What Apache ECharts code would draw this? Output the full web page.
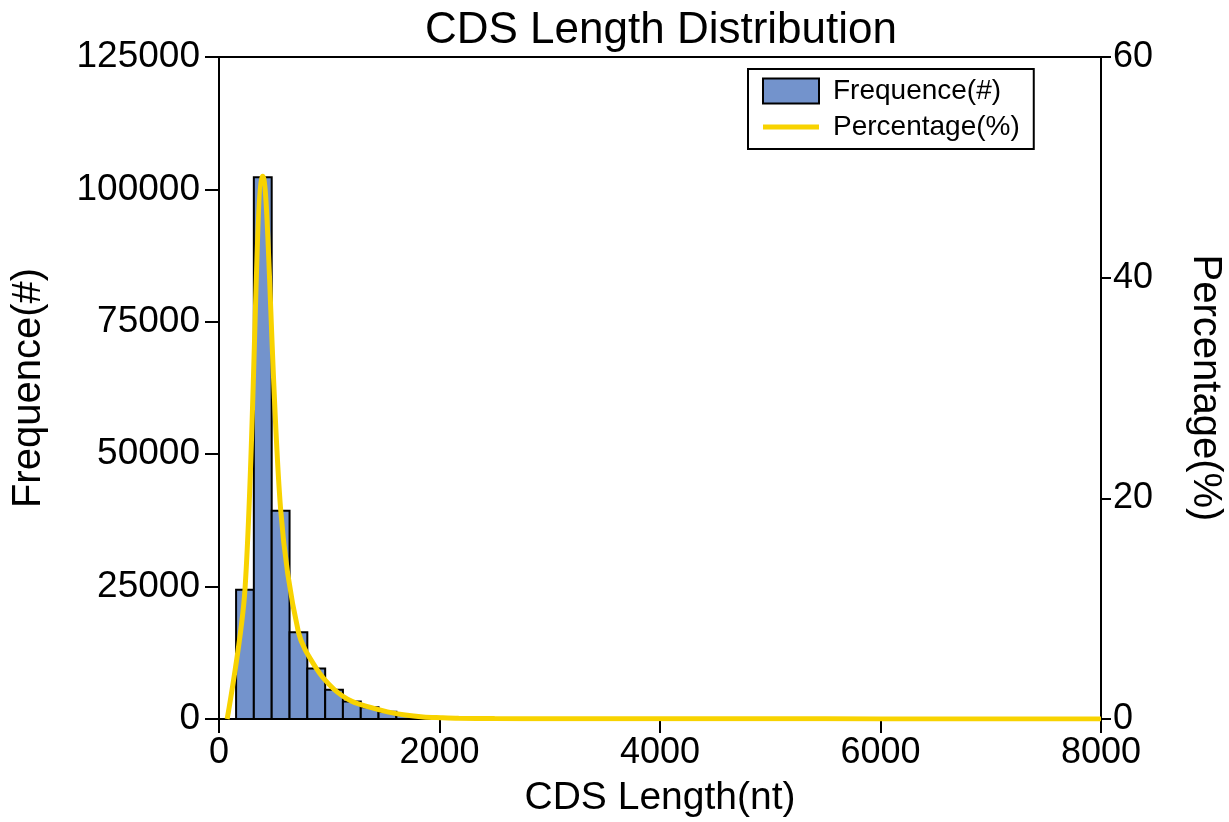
<!DOCTYPE html>
<html>
<head>
<meta charset="utf-8">
<script src="https://cdn.jsdelivr.net/npm/echarts@6/dist/echarts.min.js"></script>
<style>
html,body{margin:0;padding:0;background:#fff;overflow:hidden;}
#chart{width:1229px;height:822px;}
</style>
</head>
<body>
<div id="chart"></div>
<script>
// Histogram bins (CDS length, nt): left and right edges
const binLeft  = [155, 316, 478, 640, 801, 963, 1124, 1286, 1447, 1609, 1770, 1932, 2093, 2255];
const binRight = [316, 478, 640, 801, 963, 1124, 1286, 1447, 1609, 1770, 1932, 2093, 2255, 2416];
const frequency = [24400, 102300, 39300, 16400, 9550, 5500, 3300, 2200, 1350, 750, 400, 250, 150, 100];

// Percentage curve points (x in nt, y in %)
const pctX = [74, 236, 397, 559, 720, 882, 1043, 1205, 1366, 1528, 1689, 1851, 2012, 2174, 2500, 3000, 4000, 5000, 6000, 7000, 8000];
const pctY = [0, 11.8, 49.2, 19.0, 7.9, 4.6, 2.7, 1.6, 1.07, 0.65, 0.36, 0.19, 0.12, 0.07, 0.04, 0.03, 0.03, 0.02, 0.01, 0.01, 0.0];

const xTicks = [0, 2000, 4000, 6000, 8000];
const seriesNames = ['Frequence(#)', 'Percentage(%)'];

const FONT = '"Liberation Sans", Arial, sans-serif';
const barData = binLeft.map((l, i) => [l, binRight[i], frequency[i]]);
const lineData = pctX.map((x, i) => [x, pctY[i]]);
const plain = v => String(v);

const chart = echarts.init(document.getElementById('chart'), null, {renderer: 'canvas'});
chart.setOption({
  animation: false,
  backgroundColor: '#fff',
  textStyle: {fontFamily: FONT, color: '#000'},
  title: {
    text: 'CDS Length Distribution',
    left: 656, top: 4, textAlign: 'center',
    textStyle: {fontFamily: FONT, fontSize: 44, fontWeight: 'normal', color: '#000'}
  },
  legend: {
    left: 748, top: 69,
    orient: 'vertical',
    padding: [8, 14, 8, 14],
    itemGap: 8,
    itemWidth: 56, itemHeight: 25,
    borderColor: '#000', borderWidth: 2,
    textStyle: {fontFamily: FONT, fontSize: 28, color: '#000', padding: [0, 0, 0, 9]},
    data: [
      {name: seriesNames[0], icon: 'rect', itemStyle: {color: '#7393CC', borderColor: '#000', borderWidth: 2}},
      {name: seriesNames[1], icon: 'path://M0,0 L56,0 L56,5 L0,5 Z', itemStyle: {color: '#F8D300', borderWidth: 0}}
    ]
  },
  grid: {left: 219, right: 128, top: 57, bottom: 103, outerBoundsMode: 'none', containLabel: false,
         show: true, borderColor: '#000', borderWidth: 2, backgroundColor: 'transparent'},
  xAxis: {
    type: 'value', min: xTicks[0], max: xTicks[xTicks.length - 1], interval: 2000,
    name: 'CDS Length(nt)', nameLocation: 'middle', nameGap: 60,
    nameTextStyle: {fontFamily: FONT, fontSize: 39, color: '#000'},
    axisLine: {show: true, lineStyle: {color: '#000', width: 2}},
    axisTick: {show: true, inside: false, length: 14, lineStyle: {color: '#000', width: 2}},
    axisLabel: {fontFamily: FONT, fontSize: 36, color: '#000', margin: 16, formatter: plain},
    splitLine: {show: false}
  },
  yAxis: [
    {
      type: 'value', min: 0, max: 125000, interval: 25000, position: 'left',
      name: 'Frequence(#)', nameLocation: 'middle', nameGap: 170, nameRotate: 90,
      nameTextStyle: {fontFamily: FONT, fontSize: 40, color: '#000'},
      axisLine: {show: true, lineStyle: {color: '#000', width: 2}},
      axisTick: {show: true, inside: false, length: 14, lineStyle: {color: '#000', width: 2}},
      axisLabel: {fontFamily: FONT, fontSize: 37, color: '#000', margin: 19, formatter: plain},
      splitLine: {show: false}
    },
    {
      type: 'value', min: 0, max: 60, interval: 20, position: 'right',
      name: 'Percentage(%)', nameLocation: 'middle', nameGap: 84, nameRotate: -90,
      nameTextStyle: {fontFamily: FONT, fontSize: 40, color: '#000'},
      axisLine: {show: true, lineStyle: {color: '#000', width: 2}},
      axisTick: {show: true, inside: false, length: 10, lineStyle: {color: '#000', width: 2}},
      axisLabel: {fontFamily: FONT, fontSize: 36, color: '#000', margin: 12, formatter: plain},
      splitLine: {show: false}
    }
  ],
  series: [
    {
      name: seriesNames[0], type: 'custom', xAxisIndex: 0, yAxisIndex: 0,
      itemStyle: {color: '#7393CC', borderColor: '#000', borderWidth: 2},
      encode: {x: [0, 1], y: 2},
      data: barData,
      renderItem: function (params, api) {
        const p0 = api.coord([api.value(0), api.value(2)]);
        const p1 = api.coord([api.value(1), 0]);
        return {
          type: 'rect',
          shape: {x: p0[0], y: p0[1], width: p1[0] - p0[0], height: p1[1] - p0[1]},
          style: {fill: '#7393CC', stroke: '#000', lineWidth: 2}
        };
      },
      z: 2
    },
    {
      name: seriesNames[1], type: 'line', xAxisIndex: 0, yAxisIndex: 1,
      data: lineData, smooth: 0.35, symbol: 'none', showSymbol: false,
      lineStyle: {color: '#F8D300', width: 5},
      itemStyle: {color: '#F8D300'},
      z: 3
    }
  ]
});
</script>
</body>
</html>
